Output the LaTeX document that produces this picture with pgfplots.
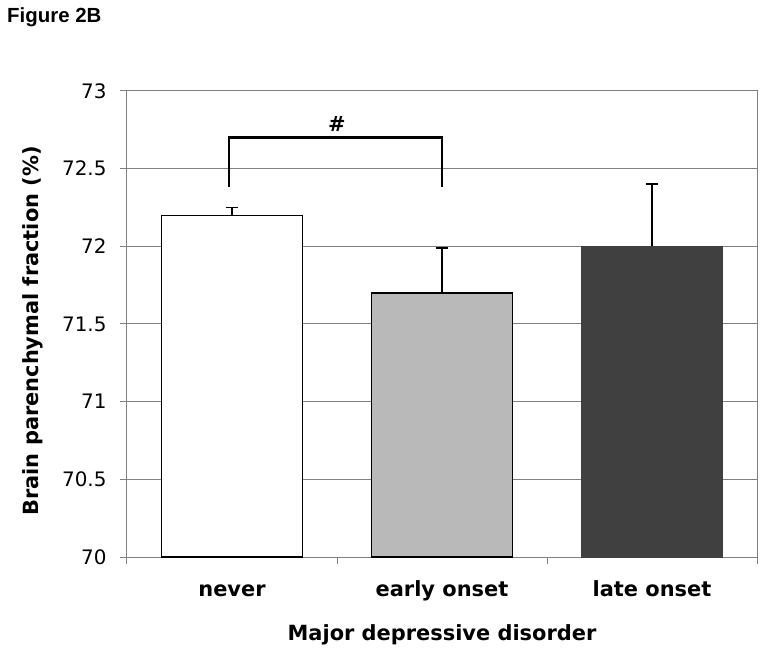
\documentclass[border=0pt]{standalone}
\usepackage{pgfplots}
\pgfplotsset{compat=1.18}
\usepackage{fontspec}
\setmainfont{DejaVu Sans}
\newfontfamily\arialfont{Liberation Sans}
\definecolor{gridgray}{RGB}{128,128,128}
\definecolor{darkbar}{RGB}{64,64,64}
\definecolor{midbar}{RGB}{185,185,185}
\begin{document}
\begin{tikzpicture}
\path[use as bounding box] (-127bp,-98bp) rectangle (637bp,557bp);
\begin{axis}[
  at={(0,0)}, anchor=south west,
  scale only axis, width=630bp, height=466bp,
  xmin=-0.5, xmax=2.5, ymin=70, ymax=73,
  ybar, bar width=141bp, bar shift=0pt,
  xtick={0,1,2}, xticklabels={never,early onset,late onset},
  minor xtick={-0.5,0.5,1.5,2.5},
  ytick={70,70.5,71,71.5,72,72.5,73},
  yticklabels={70,70.5,71,71.5,72,72.5,73},
  tick align=outside, tick pos=left,
  major tick length=7bp, minor tick length=7bp,
  major x tick style={draw=none},
  tick style={gridgray, line width=1bp},
  minor tick style={gridgray, line width=1bp},
  axis line style={gridgray, line width=1bp},
  ymajorgrids, grid style={gridgray, line width=1bp},
  yticklabel style={font=\fontsize{20}{22}\selectfont, anchor=east, xshift=-10bp},
  xticklabel style={font=\bfseries\fontsize{21}{23}\selectfont, anchor=base, yshift=-32bp},
  xlabel={Major depressive disorder},
  xlabel style={font=\bfseries\fontsize{21}{23}\selectfont, at={(axis description cs:0.5,-0.168)}, anchor=center},
  ylabel={Brain parenchymal fraction (\%)},
  ylabel style={font=\bfseries\fontsize{21}{23}\selectfont, at={(axis description cs:-0.149,0.485)}, anchor=center},
  clip=false,
]
\addplot[fill=white, draw=black, line width=1.2bp,
  error bars/.cd, y dir=plus, y explicit, error mark=|,
  error bar style={black, line width=1.5bp},
  error mark options={black, line width=1.5bp, mark size=6bp}]
  coordinates {(0,72.2) +- (0,0.05)};
\addplot[fill=midbar, draw=black, line width=1.2bp,
  error bars/.cd, y dir=plus, y explicit, error mark=|,
  error bar style={black, line width=1.5bp},
  error mark options={black, line width=1.5bp, mark size=6bp}]
  coordinates {(1,71.7) +- (0,0.29)};
\addplot[fill=darkbar, draw=darkbar, line width=1.2bp,
  error bars/.cd, y dir=plus, y explicit, error mark=|,
  error bar style={black, line width=1.5bp},
  error mark options={black, line width=1.5bp, mark size=6bp}]
  coordinates {(2,72.0) +- (0,0.40)};
\addplot[sharp plot, black, line width=2.2bp, mark=none, forget plot]
  coordinates {(-0.015,72.385) (-0.015,72.7) (1,72.7) (1,72.385)};
\node[font=\bfseries\fontsize{21}{23}\selectfont] at (axis cs:0.5,72.79) {\#};
\end{axis}
\node[anchor=north west, inner sep=0pt, font=\arialfont\bfseries\fontsize{20.5}{22}\selectfont] at (-120bp,549bp) {Figure 2B};
\end{tikzpicture}
\end{document}
